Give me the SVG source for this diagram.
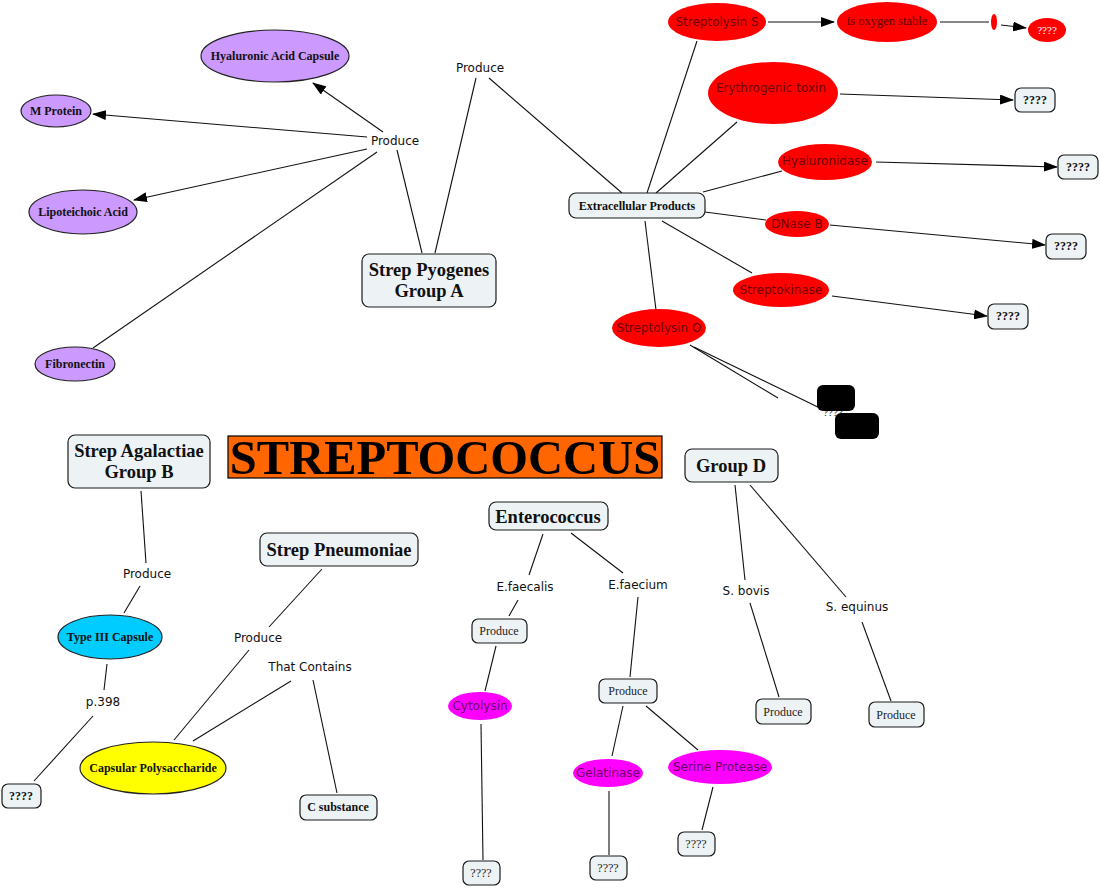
<svg xmlns="http://www.w3.org/2000/svg" width="1100" height="888" viewBox="0 0 1100 888">
<defs>
<marker id="arr" markerWidth="14" markerHeight="10" refX="13" refY="5" orient="auto" markerUnits="userSpaceOnUse">
<path d="M0,0 L14,5 L0,10 Z" fill="#000"/>
</marker>
<style>
.box{fill:#edf3f5;stroke:#1a1a1a;stroke-width:1.2}
.big{font-family:"Liberation Serif",serif;font-weight:bold;font-size:18.5px;fill:#111;text-anchor:middle}
.sm{font-family:"Liberation Serif",serif;font-weight:bold;font-size:12px;fill:#111;text-anchor:middle}
.smr{font-family:"Liberation Serif",serif;font-size:12px;fill:#222;text-anchor:middle}
.lbl{font-family:"DejaVu Sans",sans-serif;font-size:12px;fill:#111;text-anchor:middle}
.pur{fill:#cc99ff;stroke:#222;stroke-width:1.2}
.red{fill:#ff0000;stroke:none}
.redt{font-family:"DejaVu Sans",sans-serif;font-size:12px;fill:#6b0000;text-anchor:middle}
.mag{fill:#ff00ff;stroke:none}
.magt{font-family:"DejaVu Sans",sans-serif;font-size:12px;fill:#660066;text-anchor:middle}
.ln{stroke:#111;stroke-width:1.1;fill:none}
.ar{stroke:#111;stroke-width:1.1;fill:none;marker-end:url(#arr)}
</style>
</defs>
<rect width="1100" height="888" fill="#fff"/>

<g id="connectors">
<line class="ar" x1="383" y1="132" x2="313" y2="83"/>
<line class="ar" x1="367" y1="137" x2="93" y2="114"/>
<line class="ar" x1="367" y1="149" x2="134" y2="200"/>
<line class="ln" x1="377" y1="152" x2="93" y2="348"/>
<line class="ln" x1="397" y1="150" x2="422" y2="253"/>
<line class="ln" x1="476" y1="78" x2="435" y2="253"/>
<line class="ln" x1="489" y1="78" x2="622" y2="193"/>
<line class="ln" x1="697" y1="41" x2="647" y2="193"/>
<line class="ln" x1="737" y1="122" x2="656" y2="193"/>
<line class="ln" x1="782" y1="171" x2="703" y2="192"/>
<line class="ln" x1="705" y1="212" x2="766" y2="220"/>
<line class="ln" x1="662" y1="221" x2="752" y2="273"/>
<line class="ln" x1="645" y1="221" x2="656" y2="310"/>
<line class="ar" x1="768" y1="22" x2="834" y2="22"/>
<line class="ln" x1="940" y1="22" x2="989" y2="22"/>
<line class="ar" x1="1001" y1="25" x2="1026" y2="28"/>
<line class="ar" x1="840" y1="94" x2="1013" y2="100"/>
<line class="ar" x1="876" y1="162" x2="1057" y2="167"/>
<line class="ar" x1="830" y1="225" x2="1045" y2="245"/>
<line class="ar" x1="832" y1="296" x2="987" y2="316"/>
<line class="ln" x1="690" y1="345" x2="778" y2="398"/>
<line class="ln" x1="694" y1="347" x2="826" y2="411"/>
<line class="ln" x1="141" y1="491" x2="146" y2="563"/>
<line class="ln" x1="140" y1="586" x2="124" y2="613"/>
<line class="ln" x1="107" y1="664" x2="104" y2="690"/>
<line class="ln" x1="93" y1="716" x2="34" y2="781"/>
<line class="ln" x1="322" y1="569" x2="269" y2="627"/>
<line class="ln" x1="249" y1="650" x2="174" y2="740"/>
<line class="ln" x1="291" y1="681" x2="193" y2="741"/>
<line class="ln" x1="313" y1="680" x2="337" y2="793"/>
<line class="ln" x1="543" y1="534" x2="529" y2="575"/>
<line class="ln" x1="518" y1="600" x2="509" y2="616"/>
<line class="ln" x1="496" y1="646" x2="485" y2="691"/>
<line class="ln" x1="481" y1="724" x2="483" y2="860"/>
<line class="ln" x1="571" y1="533" x2="623" y2="573"/>
<line class="ln" x1="638" y1="597" x2="630" y2="677"/>
<line class="ln" x1="623" y1="706" x2="612" y2="756"/>
<line class="ln" x1="609" y1="791" x2="609" y2="855"/>
<line class="ln" x1="646" y1="706" x2="698" y2="750"/>
<line class="ln" x1="713" y1="787" x2="702" y2="830"/>
<line class="ln" x1="735" y1="485" x2="745" y2="580"/>
<line class="ln" x1="750" y1="603" x2="779" y2="697"/>
<line class="ln" x1="750" y1="485" x2="846" y2="597"/>
<line class="ln" x1="862" y1="622" x2="891" y2="701"/>
</g>

<g id="title"><rect x="228" y="436" width="434" height="42" fill="#ff6600" stroke="#000" stroke-width="1.2"/>
<text x="445" y="474" font-family="Liberation Serif,serif" font-weight="bold" font-size="48.5" text-anchor="middle" fill="#000">STREPTOCOCCUS</text></g>

<g id="hyaluronic-capsule"><ellipse class="pur" cx="275" cy="56" rx="74" ry="26"/><text class="sm" x="275" y="60">Hyaluronic Acid Capsule</text></g>
<g id="m-protein"><ellipse class="pur" cx="56" cy="111" rx="35" ry="16"/><text class="sm" x="56" y="115">M Protein</text></g>
<g id="lipoteichoic"><ellipse class="pur" cx="83" cy="212" rx="54" ry="22"/><text class="sm" x="83" y="216">Lipoteichoic Acid</text></g>
<g id="fibronectin"><ellipse class="pur" cx="75" cy="364" rx="40" ry="17"/><text class="sm" x="75" y="368">Fibronectin</text></g>
<g id="produce-a1"><text class="lbl" x="395" y="145">Produce</text></g>
<g id="produce-a2"><text class="lbl" x="480" y="72">Produce</text></g>
<g id="strep-pyogenes"><rect class="box" x="362" y="254" width="134" height="53" rx="7"/><text class="big" x="429" y="276">Strep Pyogenes</text><text class="big" x="429" y="297">Group A</text></g>
<g id="extracellular"><rect class="box" x="569" y="193" width="136" height="25" rx="7"/><text class="sm" x="637" y="210">Extracellular Products</text></g>

<g id="streptolysin-s"><ellipse class="red" cx="717" cy="22" rx="49" ry="19"/><text class="redt" x="717" y="26">Streptolysin S</text></g>
<g id="oxygen-stable"><ellipse class="red" cx="887" cy="22" rx="50" ry="20"/><text x="887" y="25" font-family="Liberation Serif,serif" font-size="12.5" fill="#5a0000" text-anchor="middle">is oxygen stable</text></g>
<g id="tiny-node"><ellipse class="red" cx="994" cy="22" rx="3" ry="8"/></g>
<g id="q-red"><ellipse class="red" cx="1047" cy="30" rx="19" ry="12"/><text x="1047" y="34" font-family="Liberation Serif,serif" font-size="11" fill="#fff" text-anchor="middle">????</text></g>
<g id="erythrogenic"><ellipse class="red" cx="773" cy="93" rx="65" ry="31"/><text class="redt" x="771" y="92">Erythrogenic toxin</text></g>
<g id="q1"><rect class="box" x="1015" y="88" width="40" height="24" rx="6"/><text class="sm" x="1035" y="104">????</text></g>
<g id="hyaluronidase"><ellipse class="red" cx="825" cy="162" rx="47" ry="18"/><text class="redt" x="825" y="165">Hyaluronidase</text></g>
<g id="q2"><rect class="box" x="1058" y="155" width="40" height="24" rx="6"/><text class="sm" x="1078" y="171">????</text></g>
<g id="dnase-b"><ellipse class="red" cx="797" cy="224" rx="32" ry="13"/><text class="redt" x="797" y="228">DNase B</text></g>
<g id="q3"><rect class="box" x="1046" y="234" width="40" height="25" rx="6"/><text class="sm" x="1066" y="250">????</text></g>
<g id="streptokinase"><ellipse class="red" cx="781" cy="290" rx="48" ry="17"/><text class="redt" x="781" y="294">Streptokinase</text></g>
<g id="q4"><rect class="box" x="988" y="304" width="40" height="25" rx="6"/><text class="sm" x="1008" y="320">????</text></g>
<g id="streptolysin-o"><ellipse class="red" cx="659" cy="328" rx="47" ry="19"/><text class="redt" x="659" y="332">Streptolysin O</text></g>
<g id="q-hidden"><text x="833" y="416" font-family="Liberation Serif,serif" font-size="11" fill="#333" text-anchor="middle">????</text><rect x="817" y="385" width="38" height="26" rx="6" fill="#000"/><rect x="835" y="413" width="44" height="26" rx="6" fill="#000"/></g>

<g id="strep-agalactiae"><rect class="box" x="68" y="435" width="142" height="53" rx="7"/><text class="big" x="139" y="457">Strep Agalactiae</text><text class="big" x="139" y="478">Group B</text></g>
<g id="produce-b"><text class="lbl" x="147" y="578">Produce</text></g>
<g id="type3"><ellipse cx="110" cy="637" rx="52" ry="22" fill="#00ccff" stroke="#222" stroke-width="1.2"/><text class="sm" x="110" y="641">Type III Capsule</text></g>
<g id="p398"><text class="lbl" x="103" y="706">p.398</text></g>
<g id="q-b"><rect class="box" x="2" y="784" width="39" height="24" rx="6"/><text class="sm" x="21" y="800">????</text></g>

<g id="strep-pneumoniae"><rect class="box" x="260" y="533" width="158" height="33" rx="7"/><text class="big" x="339" y="556">Strep Pneumoniae</text></g>
<g id="produce-p"><text class="lbl" x="258" y="642">Produce</text></g>
<g id="that-contains"><text class="lbl" x="310" y="671">That Contains</text></g>
<g id="capsular"><ellipse cx="153" cy="768" rx="73" ry="26" fill="#ffff00" stroke="#222" stroke-width="1.2"/><text class="sm" x="153" y="772">Capsular Polysaccharide</text></g>
<g id="c-substance"><rect class="box" x="300" y="795" width="77" height="25" rx="6"/><text class="sm" x="338" y="811">C substance</text></g>

<g id="enterococcus"><rect class="box" x="489" y="502" width="119" height="28" rx="7"/><text class="big" x="548" y="523">Enterococcus</text></g>
<g id="efaecalis"><text class="lbl" x="525" y="591">E.faecalis</text></g>
<g id="produce-e1"><rect class="box" x="472" y="619" width="55" height="24" rx="6"/><text class="smr" x="499" y="635">Produce</text></g>
<g id="cytolysin"><ellipse class="mag" cx="480" cy="706" rx="32" ry="14"/><text class="magt" x="480" y="710">Cytolysin</text></g>
<g id="q-e1"><rect class="box" x="463" y="861" width="37" height="24" rx="6"/><text class="smr" x="481" y="877">????</text></g>
<g id="efaecium"><text class="lbl" x="638" y="589">E.faecium</text></g>
<g id="produce-e2"><rect class="box" x="599" y="679" width="58" height="24" rx="6"/><text class="smr" x="628" y="695">Produce</text></g>
<g id="gelatinase"><ellipse class="mag" cx="608" cy="773" rx="35" ry="14"/><text class="magt" x="608" y="777">Gelatinase</text></g>
<g id="q-e2"><rect class="box" x="590" y="856" width="37" height="24" rx="6"/><text class="smr" x="608" y="872">????</text></g>
<g id="serine-protease"><ellipse class="mag" cx="720" cy="767" rx="52" ry="17"/><text class="magt" x="720" y="771">Serine Protease</text></g>
<g id="q-e3"><rect class="box" x="678" y="832" width="37" height="24" rx="6"/><text class="smr" x="696" y="848">????</text></g>

<g id="group-d"><rect class="box" x="685" y="449" width="93" height="33" rx="7"/><text class="big" x="731" y="472">Group D</text></g>
<g id="s-bovis"><text class="lbl" x="746" y="595">S. bovis</text></g>
<g id="produce-d1"><rect class="box" x="756" y="699" width="55" height="25" rx="6"/><text class="smr" x="783" y="716">Produce</text></g>
<g id="s-equinus"><text class="lbl" x="857" y="611">S. equinus</text></g>
<g id="produce-d2"><rect class="box" x="869" y="702" width="55" height="25" rx="6"/><text class="smr" x="896" y="719">Produce</text></g>
</svg>
